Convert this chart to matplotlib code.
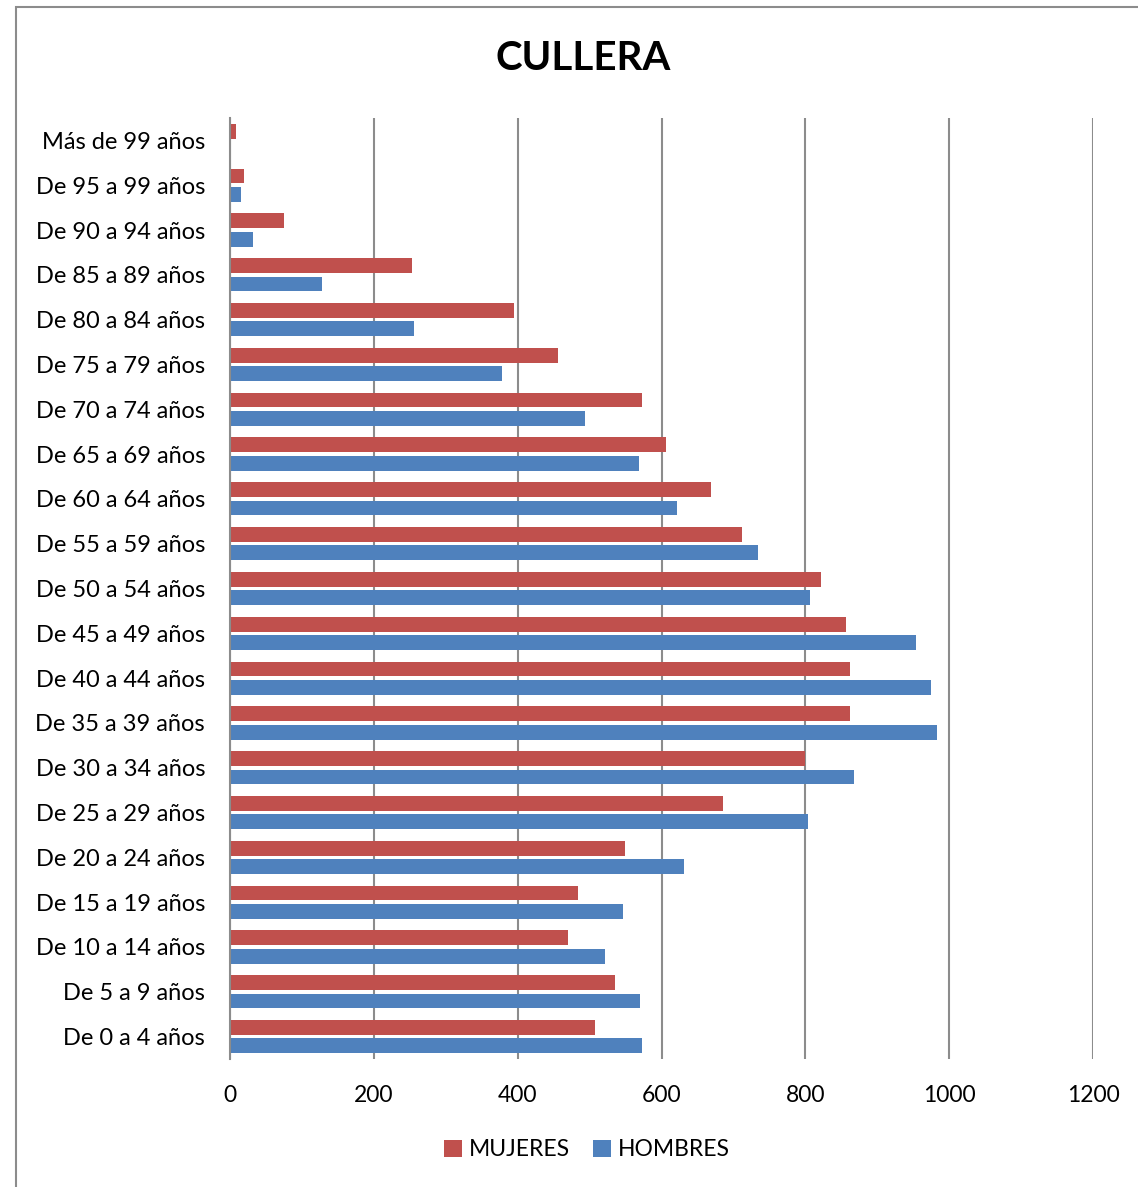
import numpy as np
import matplotlib.pyplot as plt
from matplotlib.patches import Rectangle

categorias = ['De 0 a 4 años', 'De 5 a 9 años', 'De 10 a 14 años', 'De 15 a 19 años',
              'De 20 a 24 años', 'De 25 a 29 años', 'De 30 a 34 años', 'De 35 a 39 años',
              'De 40 a 44 años', 'De 45 a 49 años', 'De 50 a 54 años', 'De 55 a 59 años',
              'De 60 a 64 años', 'De 65 a 69 años', 'De 70 a 74 años', 'De 75 a 79 años',
              'De 80 a 84 años', 'De 85 a 89 años', 'De 90 a 94 años', 'De 95 a 99 años',
              'Más de 99 años']
mujeres = [507, 535, 470, 484, 549, 686, 800, 862, 862, 857, 822, 712,
           669, 606, 573, 456, 395, 253, 75, 19, 8]
hombres = [573, 570, 521, 546, 631, 804, 868, 983, 975, 954, 806, 734,
           622, 569, 494, 378, 256, 128, 32, 15, 0]

plt.rcParams['font.family'] = ['Lato', 'DejaVu Sans']

fig = plt.figure(figsize=(11.38, 11.87), dpi=100)
ax = fig.add_axes([230 / 1138, 1 - 1059 / 1187, (1093 - 230) / 1138, (1059 - 118) / 1187])

y = np.arange(len(categorias))
h = 0.33
ax.barh(y + 0.205, mujeres, height=h, color='#C0504D', label='MUJERES', zorder=3)
ax.barh(y - 0.205, hombres, height=h, color='#4F81BD', label='HOMBRES', zorder=3)

ax.set_xlim(0, 1200)
ax.set_ylim(-0.5, len(categorias) - 0.5)
ax.set_xticks(np.arange(0, 1201, 200))
ax.set_yticks(y)
ax.set_yticklabels(categorias, fontsize=17)
ax.tick_params(axis='x', labelsize=16.5, length=0, pad=19)
ax.tick_params(axis='y', length=0, pad=18)
ax.grid(axis='x', color='#8C8C8C', linewidth=1.5, zorder=0)
for s in ['top', 'right', 'bottom']:
    ax.spines[s].set_visible(False)
ax.spines['left'].set_color('#8C8C8C')
ax.spines['left'].set_linewidth(1.5)
ax.spines['left'].set_zorder(4)

fig.text(583 / 1138, 1 - 59 / 1187, 'CULLERA', ha='center', va='center',
         fontsize=29, fontweight='bold')

handles, labels = ax.get_legend_handles_labels()
fig.legend(handles, labels, loc='center', bbox_to_anchor=(587 / 1138, 1 - 1150 / 1187),
           ncol=2, frameon=False, fontsize=16.5, handlelength=0.8, handleheight=0.8,
           handletextpad=0.3, columnspacing=1.0)

fig.patches.append(Rectangle((16 / 1138, -0.05), 2, 1.05 - 7 / 1187, transform=fig.transFigure,
                             fill=False, edgecolor='#8C8C8C', linewidth=1.5))

fig.savefig('out.png', dpi=100)
